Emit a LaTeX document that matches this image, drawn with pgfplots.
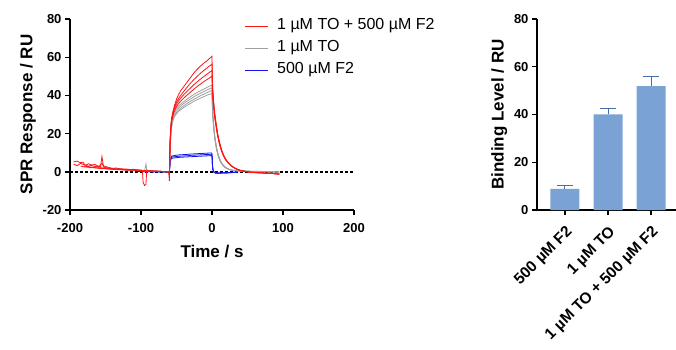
\documentclass[border=0pt]{standalone}
\usepackage{fontspec}
\setmainfont{Liberation Sans}
\usepackage{pgfplots}
\pgfplotsset{compat=1.18}
\definecolor{barblue}{RGB}{122,162,212}
\definecolor{errblue}{RGB}{70,110,175}
\definecolor{sprgray}{RGB}{160,160,160}
\definecolor{sprred}{RGB}{255,20,20}
\definecolor{sprblue}{RGB}{20,20,240}
\pgfplotsset{
  common/.style={
    scale only axis,
    axis x line*=bottom, axis y line*=left,
    axis line style={-, line width=1.4pt, black},
    tick align=outside, major tick length=5pt,
    tick style={line width=1.4pt, black},
    /pgf/number format/assume math mode=true,
    ticklabel style={font=\bfseries\fontsize{13}{15}\selectfont},
    xticklabel style={yshift=-5pt},
    label style={font=\bfseries\fontsize{17}{20}\selectfont},
    xlabel style={yshift=-6pt},
  },
}
\begin{document}
\begin{tikzpicture}
\path[use as bounding box] (0pt,0pt) rectangle (676pt,349pt);
\begin{axis}[common,
  at={(70pt,139pt)}, anchor=south west,
  width=284pt, height=191pt,
  xmin=-200, xmax=200, ymin=-20, ymax=80,
  xtick={-200,-100,0,100,200}, ytick={-20,0,20,40,60,80},
  xlabel={Time / s}, ylabel={SPR Response / RU},
  every axis plot/.append style={line width=0.8pt},
]
\addplot[black, line width=1.5pt, dash pattern=on 2.5pt off 2.5pt] coordinates {(-200,0)(200,0)};
% blue curves
\addplot[sprblue] coordinates {
(-105,0.5)(-100,0.3)(-95,0.2)(-90,0.3)(-85,0.1)(-80,0.2)(-75,0.0)(-70,0.1)(-65,0.0)(-61,0.0)(-60,0.5)(-59,5)(-58,7.6)(-57,8.2)(-55,8.4)(-50,8.7)(-45,8.9)(-40,9.0)(-35,9.1)(-30,9.3)(-25,9.4)(-20,9.5)(-15,9.6)(-10,9.7)(-5,9.8)(-1,9.9)(0,9.6)(0.5,5)(1,2)(2,0.5)(3,-0.2)(5,-0.5)(8,-0.6)(12,-0.6)(16,-0.5)(20,-0.6)(25,-0.4)(30,-0.3)(35,-0.1)};
\addplot[sprblue] coordinates {
(-105,0.3)(-100,0.2)(-95,0.1)(-90,0.2)(-85,0.0)(-80,0.1)(-75,0.0)(-70,0.0)(-65,-0.1)(-61,0.0)(-60,0.4)(-59,4.5)(-58,7.0)(-57,7.6)(-55,7.8)(-50,8.0)(-45,8.2)(-40,8.3)(-35,8.4)(-30,8.6)(-25,8.7)(-20,8.8)(-15,8.9)(-10,9.0)(-5,9.1)(-1,9.2)(0,9.0)(0.5,4.5)(1,1.8)(2,0.4)(3,-0.3)(5,-0.6)(8,-0.7)(12,-0.6)(16,-0.6)(20,-0.5)(25,-0.5)(30,-0.3)(35,-0.2)};
\addplot[sprblue] coordinates {
(-105,0.2)(-100,0.1)(-95,0.0)(-90,0.1)(-85,-0.1)(-80,0.0)(-75,-0.1)(-70,0.0)(-65,-0.1)(-61,-0.1)(-60,0.3)(-59,4)(-58,6.4)(-57,7.0)(-55,7.2)(-50,7.4)(-45,7.6)(-40,7.7)(-35,7.8)(-30,7.9)(-25,8.0)(-20,8.1)(-15,8.2)(-10,8.3)(-5,8.4)(-1,8.5)(0,8.3)(0.5,4)(1,1.5)(2,0.3)(3,-0.4)(5,-0.7)(8,-0.7)(12,-0.7)(16,-0.6)(20,-0.6)(25,-0.5)(30,-0.4)(35,-0.2)};
% gray curves
\addplot[sprgray] coordinates {
(-165,3.0)(-160,2.6)(-150,2.2)(-140,1.8)(-130,1.5)(-120,1.2)(-110,1.0)(-100,0.8)(-95,0.6)(-93,4.0)(-92,0.8)(-85,0.5)(-75,0.3)(-65,0.1)(-61,0.0)(-60,-1)(-59.5,6)(-59,14)(-58,21)(-57,25.5)(-55,29.5)(-53,31.5)(-50,33.3)(-47,34.5)(-44,35.5)(-40,36.7)(-35,38.1)(-30,39.4)(-25,40.6)(-20,41.7)(-15,42.7)(-10,43.6)(-5,44.6)(-2,45.1)(0,45.5)(0.5,37)(1,32)(2,26.5)(3,22)(4,18.5)(6,13.5)(8,10)(10,7.5)(12,5.7)(14,4.4)(16,3.4)(18,2.7)(20,2.1)(24,1.4)(28,1.0)(32,0.7)(38,0.5)(45,0.4)(55,0.2)(65,0.3)(75,0.1)(85,0.0)(95,-0.2)};
\addplot[sprgray] coordinates {
(-160,2.4)(-150,2.0)(-140,1.7)(-130,1.4)(-120,1.1)(-110,0.9)(-100,0.7)(-90,0.5)(-80,0.3)(-70,0.2)(-61,0.0)(-60,-0.8)(-59.5,6)(-59,13)(-58,20)(-57,24.5)(-55,28.5)(-53,30.5)(-50,32.3)(-47,33.5)(-44,34.5)(-40,35.7)(-35,37.0)(-30,38.2)(-25,39.4)(-20,40.4)(-15,41.4)(-10,42.3)(-5,43.2)(-2,43.7)(0,44.0)(0.5,36)(1,31)(2,25.8)(3,21.5)(4,18)(6,13.2)(8,9.8)(10,7.3)(12,5.5)(14,4.3)(16,3.3)(18,2.6)(20,2.0)(24,1.3)(28,0.9)(32,0.6)(38,0.4)(45,0.5)(55,0.3)(65,0.2)(75,0.0)(85,0.1)(95,-0.1)};
\addplot[sprgray] coordinates {
(-160,2.2)(-150,1.9)(-140,1.6)(-130,1.3)(-120,1.0)(-110,0.8)(-100,0.6)(-90,0.4)(-80,0.3)(-70,0.1)(-61,0.0)(-60,-0.6)(-59.5,5)(-59,12)(-58,19)(-57,23.5)(-55,27.5)(-53,29.5)(-50,31.2)(-47,32.4)(-44,33.4)(-40,34.5)(-35,35.8)(-30,37.0)(-25,38.1)(-20,39.1)(-15,40.1)(-10,40.9)(-5,41.8)(-2,42.3)(0,42.6)(0.5,35)(1,30)(2,25)(3,21)(4,17.5)(6,12.8)(8,9.5)(10,7.1)(12,5.4)(14,4.2)(16,3.2)(18,2.5)(20,1.9)(24,1.2)(28,0.9)(32,0.6)(38,0.5)(45,0.3)(55,0.2)(65,0.1)(75,0.2)(85,-0.1)(95,-0.2)};
\addplot[sprgray] coordinates {
(-160,2.0)(-150,1.7)(-140,1.5)(-130,1.2)(-120,1.0)(-110,0.8)(-100,0.6)(-90,0.4)(-80,0.2)(-70,0.1)(-61,0.0)(-60,-0.5)(-59.5,5)(-59,12)(-58,18.5)(-57,23)(-55,26.8)(-53,28.8)(-50,30.4)(-47,31.6)(-44,32.5)(-40,33.6)(-35,34.8)(-30,35.9)(-25,37.0)(-20,37.9)(-15,38.8)(-10,39.6)(-5,40.4)(-2,40.8)(0,41.1)(0.5,34)(1,29.5)(2,24.5)(3,20.5)(4,17)(6,12.5)(8,9.2)(10,6.9)(12,5.2)(14,4.0)(16,3.1)(18,2.4)(20,1.9)(24,1.2)(28,0.8)(32,0.6)(38,0.4)(45,0.3)(55,0.1)(65,0.2)(75,0.0)(85,-0.1)(95,-0.1)};
% red curves
\addplot[sprred] coordinates {
(-195,5.2)(-190,5.6)(-186,4.8)(-182,5.0)(-178,3.4)(-174,4.2)(-170,3.6)(-165,3.8)(-160,3.0)(-157,2.6)(-155,8.0)(-153,3.2)(-150,2.8)(-145,2.2)(-140,1.8)(-135,2.0)(-130,1.6)(-125,1.5)(-120,1.4)(-115,1.2)(-110,1.3)(-105,1.0)(-100,0.9)(-98,0.5)(-97,-5.5)(-95,-7.2)(-93,-6.5)(-92,0.8)(-88,0.6)(-85,0.5)(-80,0.4)(-75,0.3)(-70,0.2)(-65,0.1)(-61,0.1)(-60,-4.8)(-59.5,8)(-59,16)(-58,23)(-57,27)(-55,31)(-53,34.5)(-50,38)(-47,40.5)(-44,42.5)(-40,44.5)(-35,47)(-30,49.5)(-25,52)(-20,54)(-15,55.8)(-10,57.3)(-5,58.8)(-2,59.8)(0,60.5)(0.5,50)(1,44)(2,39)(3,34)(4,30.5)(6,25)(8,20)(10,16.5)(12,13.5)(14,11)(16,9)(18,7.5)(20,6.2)(23,4.8)(26,3.6)(30,2.5)(34,1.6)(38,1.0)(42,0.6)(46,0.3)(50,0.1)(55,-0.2)(60,-0.3)(65,-0.5)(70,-0.4)(75,-0.7)(80,-0.8)(85,-0.9)(90,-1.1)(95,-1.3)};
\addplot[sprred] coordinates {
(-180,2.6)(-170,2.2)(-160,1.9)(-150,1.6)(-140,1.3)(-130,1.1)(-120,0.9)(-110,0.8)(-100,0.6)(-90,0.4)(-80,0.3)(-70,0.1)(-61,0.0)(-60,-1)(-59.5,7)(-59,15)(-58,22)(-57,26)(-55,29.5)(-53,32)(-50,34.2)(-47,35.8)(-44,37)(-40,38.5)(-35,40.2)(-30,41.8)(-25,43.4)(-20,44.9)(-15,46.3)(-10,47.6)(-5,48.8)(-2,49.5)(0,50)(0.5,43)(1,39)(2,35)(3,31)(4,27.8)(6,23)(8,18.7)(10,15.3)(12,12.5)(14,10.3)(16,8.5)(18,7)(20,5.8)(23,4.5)(26,3.4)(30,2.3)(34,1.5)(38,0.9)(42,0.5)(46,0.2)(50,-0.1)(55,-0.3)(60,-0.4)(65,-0.6)(70,-0.5)(75,-0.8)(80,-0.9)(85,-0.8)(90,-1.1)(95,-1.3)};
\addplot[sprred] coordinates {
(-185,3.0)(-180,2.6)(-175,2.8)(-170,2.4)(-165,2.2)(-160,2.0)(-155,1.8)(-150,1.7)(-140,1.4)(-130,1.2)(-120,1.0)(-110,0.9)(-100,0.7)(-90,0.5)(-80,0.3)(-70,0.2)(-61,0.0)(-60,-1)(-59.5,8)(-59,16)(-58,23)(-57,27)(-55,30.5)(-53,33)(-50,35.5)(-47,37.2)(-44,38.6)(-40,40.3)(-35,42.2)(-30,44)(-25,45.8)(-20,47.4)(-15,48.9)(-10,50.3)(-5,51.7)(-2,52.5)(0,53)(0.5,45)(1,40.5)(2,36)(3,32)(4,28.5)(6,23.5)(8,19)(10,15.5)(12,12.7)(14,10.5)(16,8.7)(18,7.2)(20,6)(23,4.6)(26,3.5)(30,2.4)(34,1.5)(38,1.0)(42,0.5)(46,0.2)(50,0.0)(55,-0.3)(60,-0.5)(65,-0.4)(70,-0.6)(75,-0.8)(80,-0.6)(85,-0.9)(90,-1.0)(95,-1.2)};
\addplot[sprred] coordinates {
(-195,4.0)(-190,3.2)(-185,4.4)(-180,3.6)(-175,3.0)(-170,3.3)(-165,2.8)(-160,2.5)(-155,4.5)(-152,2.4)(-148,2.0)(-140,1.6)(-130,1.3)(-120,1.1)(-110,1.0)(-100,0.8)(-95,0.6)(-90,0.5)(-80,0.3)(-70,0.2)(-61,0.1)(-60,-2)(-59.5,9)(-59,17)(-58,24)(-57,28)(-55,31.5)(-53,34)(-50,36.5)(-47,38.5)(-44,40)(-40,42)(-35,44.3)(-30,46.5)(-25,48.5)(-20,50.3)(-15,52)(-10,53.5)(-5,55)(-2,55.8)(0,56.3)(0.5,47)(1,42)(2,37)(3,33)(4,29.5)(6,24)(8,19.5)(10,16)(12,13)(14,10.8)(16,9)(18,7.4)(20,6.1)(23,4.7)(26,3.6)(30,2.4)(34,1.6)(38,1.0)(42,0.6)(46,0.3)(50,0.0)(55,-0.2)(60,-0.4)(65,-0.3)(70,-0.6)(75,-0.7)(80,-0.7)(85,-0.9)(90,-1.0)(95,-1.1)};
\end{axis}
% legend drawn by hand
\begin{scope}[font=\fontsize{16}{19}\selectfont]
\draw[sprred, line width=0.9pt] (245pt,323pt) -- (268pt,323pt);
\node[anchor=west, inner sep=0pt, text=black] at (277pt,323pt) {1 µM TO + 500 µM F2};
\draw[sprgray, line width=0.9pt] (245pt,301pt) -- (268pt,301pt);
\node[anchor=west, inner sep=0pt, text=black] at (277pt,301pt) {1 µM TO};
\draw[sprblue, line width=0.9pt] (245pt,279pt) -- (268pt,279pt);
\node[anchor=west, inner sep=0pt, text=black] at (277pt,279pt) {500 µM F2};
\end{scope}
\begin{axis}[common,
  at={(537pt,139pt)}, anchor=south west,
  width=139pt, height=191pt,
  xmin=-0.65, xmax=2.58, ymin=0, ymax=80,
  ytick={0,20,40,60,80}, xtick={0,1,2},
  xticklabels={500 µM F2, 1 µM TO, 1 µM TO + 500 µM F2},
  xticklabel style={rotate=45, anchor=north east, yshift=0pt, font=\bfseries\fontsize{15.5}{17}\selectfont},
  ylabel={Binding Level / RU},
  ybar, bar width=29pt,
]
\addplot[fill=barblue, draw=none,
  error bars/.cd, y dir=plus, y explicit,
  error bar style={errblue, line width=1pt},
  error mark options={errblue, mark size=8pt, line width=1pt, rotate=90}]
  coordinates {(0,8.8) +- (0,1.3) (1,40.1) +- (0,2.3) (2,51.9) +- (0,4.2)};
\end{axis}
\end{tikzpicture}
\end{document}
